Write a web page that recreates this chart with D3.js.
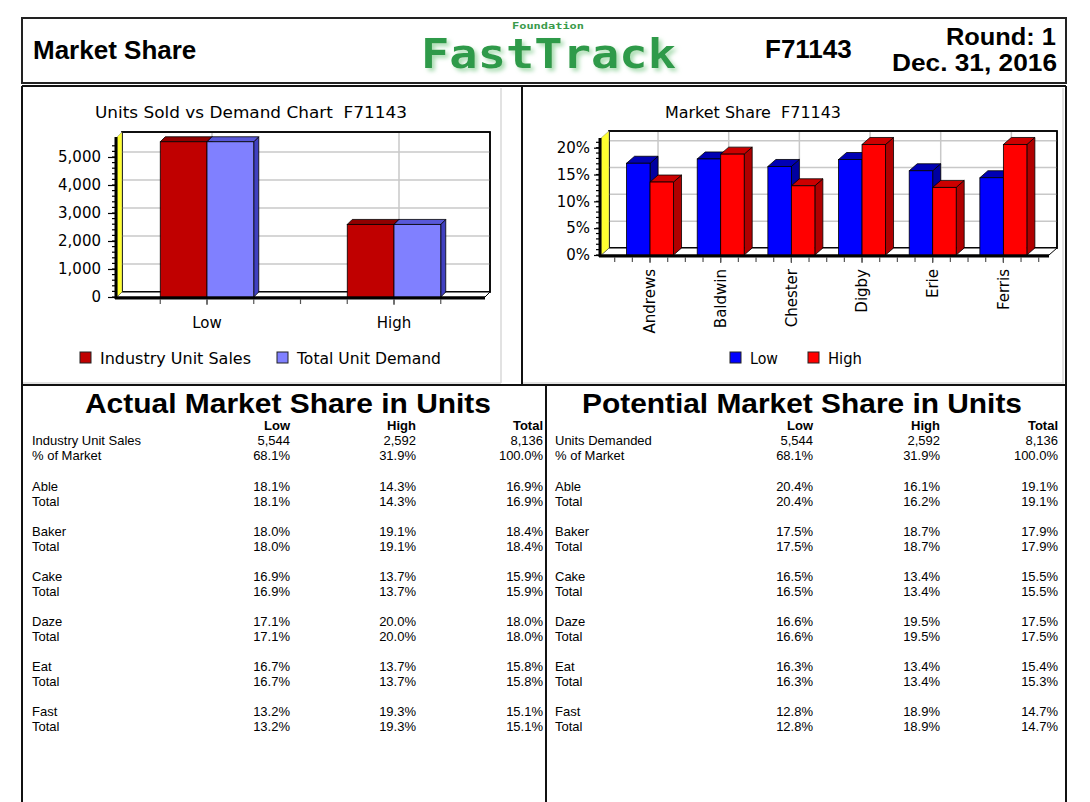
<!DOCTYPE html>
<html><head><meta charset="utf-8">
<script src="https://cdn.jsdelivr.net/npm/d3@7"></script>
<style>
body{margin:0;background:#fff;}
svg{display:block;}
text{white-space:pre;}
</style></head><body>
<svg id="c" width="1090" height="802"></svg>
<script>
// ---------- DATA ----------
const segments = ["Low", "High"];
const unitSeries = ["Industry Unit Sales", "Total Unit Demand"];
const industryUnitSales = [5544, 2592];
const totalUnitDemand = [5544, 2592];
const unitTicks = [0, 1000, 2000, 3000, 4000, 5000];

const companies = ["Andrews", "Baldwin", "Chester", "Digby", "Erie", "Ferris"];
const shareSeries = ["Low", "High"];
const shareLow = [17.1, 17.9, 16.5, 17.8, 15.7, 14.4];
const shareHigh = [13.6, 18.8, 12.9, 20.6, 12.6, 20.6];
const shareTicks = [0, 5, 10, 15, 20];

const tableColumns = ["Low", "High", "Total"];
const products = ["Able", "Baker", "Cake", "Daze", "Eat", "Fast"];
const industrySales = [5544, 2592, 8136];
const industryPct = [68.1, 31.9, 100.0];
const unitsDemanded = [5544, 2592, 8136];
const demandPct = [68.1, 31.9, 100.0];

const actualLow = [18.1, 18.0, 16.9, 17.1, 16.7, 13.2];
const actualHigh = [14.3, 19.1, 13.7, 20.0, 13.7, 19.3];
const actualTotal = [16.9, 18.4, 15.9, 18.0, 15.8, 15.1];
const actualCoLow = [18.1, 18.0, 16.9, 17.1, 16.7, 13.2];
const actualCoHigh = [14.3, 19.1, 13.7, 20.0, 13.7, 19.3];
const actualCoTotal = [16.9, 18.4, 15.9, 18.0, 15.8, 15.1];

const potentialLow = [20.4, 17.5, 16.5, 16.6, 16.3, 12.8];
const potentialHigh = [16.1, 18.7, 13.4, 19.5, 13.4, 18.9];
const potentialTotal = [19.1, 17.9, 15.5, 17.5, 15.4, 14.7];
const potentialCoLow = [20.4, 17.5, 16.5, 16.6, 16.3, 12.8];
const potentialCoHigh = [16.2, 18.7, 13.4, 19.5, 13.4, 18.9];
const potentialCoTotal = [19.1, 17.9, 15.5, 17.5, 15.3, 14.7];

// ---------- SETUP ----------
const svg = d3.select("#c");
svg.append("rect").attr("width", 1090).attr("height", 802).attr("fill", "#fff");
const defs = svg.append("defs");
const flt = defs.append("filter").attr("id", "glow").attr("x", "-10%").attr("y", "-30%").attr("width", "125%").attr("height", "160%");
flt.append("feGaussianBlur").attr("in", "SourceAlpha").attr("stdDeviation", 2.2).attr("result", "b");
flt.append("feOffset").attr("in", "b").attr("dx", 3).attr("dy", 3).attr("result", "o");
flt.append("feFlood").attr("flood-color", "#a8dcb0").attr("result", "c");
flt.append("feComposite").attr("in", "c").attr("in2", "o").attr("operator", "in").attr("result", "s");
flt.append("feGaussianBlur").attr("in", "SourceGraphic").attr("stdDeviation", 0.6).attr("result", "g");
const mg = flt.append("feMerge");
mg.append("feMergeNode").attr("in", "s");
mg.append("feMergeNode").attr("in", "g");

const chartFont = "'DejaVu Sans', Verdana, sans-serif";
const tableFont = "'Liberation Sans', Arial, Helvetica, sans-serif";

// ---------- HEADER ----------
const hdr = svg.append("g");
hdr.append("rect").attr("x", 22).attr("y", 18).attr("width", 1044).attr("height", 65)
  .attr("fill", "none").attr("stroke", "#222").attr("stroke-width", 2);
hdr.append("text").attr("x", 33).attr("y", 59).text("Market Share")
  .attr("font-family", tableFont).attr("font-weight", "bold").attr("font-size", 26);
hdr.append("text").attr("x", 421).attr("y", 68).text("FastTrack")
  .attr("font-family", "'DejaVu Sans Mono', monospace").attr("font-weight", "bold").attr("font-size", 41)
  .attr("textLength", 255).attr("lengthAdjust", "spacingAndGlyphs")
  .attr("fill", "#2f9a48").attr("filter", "url(#glow)");
hdr.append("text").attr("x", 548).attr("y", 28.5).text("Foundation").attr("text-anchor", "middle")
  .attr("font-family", "'DejaVu Sans Mono', monospace").attr("font-weight", "bold").attr("font-size", 9)
  .attr("textLength", 72).attr("lengthAdjust", "spacingAndGlyphs").attr("fill", "#3a9a4a");
hdr.append("text").attr("x", 765).attr("y", 58).text("F71143")
  .attr("font-family", tableFont).attr("font-weight", "bold").attr("font-size", 26);
hdr.append("text").attr("x", 1056).attr("y", 44.5).text("Round: 1").attr("text-anchor", "end")
  .attr("font-family", tableFont).attr("font-weight", "bold").attr("font-size", 23.5)
  .attr("textLength", 110).attr("lengthAdjust", "spacingAndGlyphs");
hdr.append("text").attr("x", 1057).attr("y", 71).text("Dec. 31, 2016").attr("text-anchor", "end")
  .attr("font-family", tableFont).attr("font-weight", "bold").attr("font-size", 23.5)
  .attr("textLength", 165).attr("lengthAdjust", "spacingAndGlyphs");

// ---------- FRAMES ----------
const frame = svg.append("g").attr("stroke", "#111").attr("stroke-width", 2).attr("fill", "none");
frame.append("line").attr("x1", 22).attr("x2", 1066).attr("y1", 86).attr("y2", 86);
frame.append("line").attr("x1", 22).attr("x2", 22).attr("y1", 86).attr("y2", 802);
frame.append("line").attr("x1", 1066).attr("x2", 1066).attr("y1", 86).attr("y2", 802);
frame.append("line").attr("x1", 522).attr("x2", 522).attr("y1", 86).attr("y2", 385);
frame.append("line").attr("x1", 22).attr("x2", 1066).attr("y1", 385).attr("y2", 385);
frame.append("line").attr("x1", 546).attr("x2", 546).attr("y1", 385).attr("y2", 802);
const inner = svg.append("g").attr("stroke", "#d8d8d8").attr("stroke-width", 1.5).attr("fill", "none");
inner.append("line").attr("x1", 501).attr("x2", 501).attr("y1", 88).attr("y2", 383);
inner.append("line").attr("x1", 23).attr("x2", 501).attr("y1", 383).attr("y2", 383);
inner.append("line").attr("x1", 523).attr("x2", 1064).attr("y1", 383).attr("y2", 383);
inner.append("line").attr("x1", 1063).attr("x2", 1063).attr("y1", 88).attr("y2", 383);

// ---------- 3D BAR CHART HELPER ----------
function chart3D(cfg) {
  const g = svg.append("g");
  const { fx0, fx1, y, x, xs, dx, dy, frontTop } = cfg;
  const y0 = y(0);
  g.append("rect").attr("x", fx0 + dx).attr("y", frontTop - dy)
    .attr("width", fx1 - fx0).attr("height", y0 - frontTop)
    .attr("fill", "#fff").attr("stroke", "#000").attr("stroke-width", 1.5);
  g.selectAll("line.hg").data(cfg.ticks.filter(t => t > 0)).join("line").attr("class", "hg")
    .attr("x1", fx0 + dx).attr("x2", fx1 + dx)
    .attr("y1", d => y(d) - dy).attr("y2", d => y(d) - dy)
    .attr("stroke", "#c8c8c8").attr("stroke-width", 1.5);
  g.selectAll("line.vg").data(x.domain()).join("line").attr("class", "vg")
    .attr("x1", d => x(d) + x.bandwidth() / 2 + dx).attr("x2", d => x(d) + x.bandwidth() / 2 + dx)
    .attr("y1", frontTop - dy + 1).attr("y2", y0 - dy)
    .attr("stroke", "#c8c8c8").attr("stroke-width", 1.5);
  g.append("rect").attr("x", fx0 + dx).attr("y", frontTop - dy)
    .attr("width", fx1 - fx0).attr("height", y0 - frontTop)
    .attr("fill", "none").attr("stroke", "#000").attr("stroke-width", 1.5);
  g.append("path").attr("d", `M${fx0},${y0}L${fx0 + dx},${y0 - dy}L${fx1 + dx},${y0 - dy}L${fx1},${y0}Z`)
    .attr("fill", "#fff").attr("stroke", "#000").attr("stroke-width", 1);
  g.append("path").attr("d", `M${fx0},${y0}L${fx0},${frontTop}L${fx0 + dx},${frontTop - dy}L${fx0 + dx},${y0 - dy}Z`)
    .attr("fill", "#ffff30").attr("stroke", "#888").attr("stroke-width", 0.5);
  const bars = g.selectAll("g.bar").data(cfg.data).join("g").attr("class", "bar");
  bars.each(function (d) {
    const s = d3.select(this);
    const bx = x(d.cat) + xs(d.series), w = xs.bandwidth(), yt = y(d.value);
    const c = cfg.colors[d.series];
    s.append("path").attr("d", `M${bx + w},${yt}L${bx + w + dx},${yt - dy}L${bx + w + dx},${y0 - dy}L${bx + w},${y0}Z`)
      .attr("fill", c.side).attr("stroke", "#000").attr("stroke-width", 0.8);
    s.append("path").attr("d", `M${bx},${yt}L${bx + dx},${yt - dy}L${bx + w + dx},${yt - dy}L${bx + w},${yt}Z`)
      .attr("fill", c.top).attr("stroke", "#000").attr("stroke-width", 0.8);
    s.append("rect").attr("x", bx).attr("y", yt).attr("width", w).attr("height", y0 - yt)
      .attr("fill", c.front).attr("stroke", "#000").attr("stroke-width", 0.8);
  });
  g.append("line").attr("x1", fx0 - 2).attr("x2", fx1).attr("y1", y0 + 1).attr("y2", y0 + 1)
    .attr("stroke", "#000").attr("stroke-width", 3);
  g.append("line").attr("x1", fx0 - 1).attr("x2", fx0 - 1).attr("y1", frontTop).attr("y2", y0 + 2)
    .attr("stroke", "#000").attr("stroke-width", 3);
  g.selectAll("line.mt").data(cfg.minor).join("line").attr("class", "mt")
    .attr("x1", fx0 - 5).attr("x2", fx0).attr("y1", d => y(d)).attr("y2", d => y(d))
    .attr("stroke", "#000").attr("stroke-width", 1.2);
  const ya = g.append("g").attr("transform", `translate(${fx0 - 1},0)`)
    .call(d3.axisLeft(y).tickValues(cfg.ticks).tickFormat(cfg.fmt).tickSize(cfg.tickSize).tickPadding(cfg.tickPad));
  ya.select(".domain").remove();
  ya.selectAll("line").attr("stroke", "#000").attr("stroke-width", 1.2);
  ya.selectAll("text").attr("font-family", chartFont).attr("font-size", 15).attr("fill", "#000");
  const r = x.range(), q = x.step() / 4;
  const xt = d3.range(0, Math.round((r[1] - r[0]) / q) + 1).map(k => r[0] + k * q)
    .filter(v => v >= cfg.xtMin && v <= cfg.xtMax);
  g.selectAll("line.xt").data(xt).join("line").attr("class", "xt")
    .attr("x1", d => d).attr("x2", d => d).attr("y1", y0 + 2).attr("y2", y0 + 7)
    .attr("stroke", "#555").attr("stroke-width", 1.2);
  const xa = g.append("g").attr("transform", `translate(0,${y0 + 2})`)
    .call(d3.axisBottom(x).tickSize(6).tickPadding(cfg.xPad));
  xa.select(".domain").remove();
  xa.selectAll("line").attr("stroke", "#555").attr("stroke-width", 1.2);
  xa.selectAll("text").attr("font-family", chartFont).attr("font-size", 15).attr("fill", "#000");
  if (cfg.rotate) {
    xa.selectAll("text").attr("transform", "rotate(-90)").attr("y", 0).attr("x", -cfg.xPad - 6)
      .attr("dy", "0.36em").attr("text-anchor", "end");
  }
  g.append("text").attr("x", cfg.titleX).attr("y", 118).attr("text-anchor", "middle").text(cfg.title)
    .attr("font-family", chartFont).attr("font-size", 15)
    .attr("textLength", cfg.titleLen).attr("lengthAdjust", "spacingAndGlyphs");
  const lg = g.selectAll("g.lg").data(cfg.legend).join("g").attr("class", "lg");
  lg.append("rect").attr("x", d => d.x).attr("y", 352).attr("width", 11).attr("height", 11)
    .attr("fill", d => cfg.colors[d.name].front).attr("stroke", "#222").attr("stroke-width", 1);
  lg.append("text").attr("x", d => d.x + 20).attr("y", 364).text(d => d.name)
    .attr("font-family", chartFont).attr("font-size", 15)
    .attr("textLength", d => d.len).attr("lengthAdjust", "spacingAndGlyphs");
  return g;
}

// ---------- LEFT CHART ----------
const xU = d3.scaleBand().domain(segments).range([113.5, 487.5]).paddingInner(0.5).paddingOuter(0.25);
const xUs = d3.scaleBand().domain(unitSeries).range([0, xU.bandwidth()]);
const yU = d3.scaleLinear().domain([0, 5000]).range([297, 157]);
chart3D({
  fx0: 117, fx1: 485, dx: 5, dy: 5, frontTop: 137,
  x: xU, xs: xUs, y: yU, ticks: unitTicks, minor: d3.range(0, 5600, 200),
  fmt: d3.format(","), tickSize: 8, tickPad: 7, xPad: 12,
  xtMin: xU(segments[0]) - 1, xtMax: xU(segments[1]) + xU.bandwidth() + 1,
  data: segments.flatMap((s, i) => [
    { cat: s, series: unitSeries[0], value: industryUnitSales[i] },
    { cat: s, series: unitSeries[1], value: totalUnitDemand[i] }]),
  colors: {
    "Industry Unit Sales": { front: "#c00000", top: "#900000", side: "#800000" },
    "Total Unit Demand": { front: "#8080ff", top: "#5858d8", side: "#4040c0" }
  },
  title: "Units Sold vs Demand Chart  F71143", titleX: 251, titleLen: 312,
  legend: [{ name: unitSeries[0], x: 80, len: 151 }, { name: unitSeries[1], x: 277, len: 144 }]
});

// ---------- RIGHT CHART ----------
const xS = d3.scaleBand().domain(companies).range([614.7, 1038.7]).paddingInner(0.335).paddingOuter(0.1675);
const xSs = d3.scaleBand().domain(shareSeries).range([0, xS.bandwidth()]);
const yS = d3.scaleLinear().domain([0, 20]).range([255, 147.7]);
chart3D({
  fx0: 601, fx1: 1049, dx: 8, dy: 7, frontTop: 138,
  x: xS, xs: xSs, y: yS, ticks: shareTicks, minor: d3.range(0, 22, 1),
  fmt: d => d + "%", tickSize: 6, tickPad: 4, xPad: 6, rotate: true,
  xtMin: 0, xtMax: 2000,
  data: companies.flatMap((c, i) => [
    { cat: c, series: "Low", value: shareLow[i] },
    { cat: c, series: "High", value: shareHigh[i] }]),
  colors: {
    "Low": { front: "#0000ff", top: "#0000b4", side: "#0000a0" },
    "High": { front: "#ff0000", top: "#cc0000", side: "#b00000" }
  },
  title: "Market Share  F71143", titleX: 753, titleLen: 176,
  legend: [{ name: "Low", x: 730, len: 28 }, { name: "High", x: 808, len: 34 }]
});

// ---------- TABLES ----------
const pct = v => d3.format(".1f")(v) + "%";
const num = d3.format(",");
function drawTable(cfg) {
  const g = svg.append("g").attr("font-family", tableFont).attr("font-size", 13).attr("fill", "#000");
  g.append("text").attr("x", cfg.titleX).attr("y", 413).attr("text-anchor", "middle").text(cfg.title)
    .attr("font-weight", "bold").attr("font-size", 28)
    .attr("textLength", cfg.titleLen).attr("lengthAdjust", "spacingAndGlyphs");
  g.selectAll("text.hd").data(tableColumns).join("text").attr("class", "hd")
    .attr("x", (d, i) => cfg.colX[i]).attr("y", 430).attr("text-anchor", "end")
    .attr("font-weight", "bold").text(d => d);
  const rows = [
    { label: cfg.sumLabel, vals: cfg.sumVals.map(num), y: 445 },
    { label: "% of Market", vals: cfg.sumPct.map(pct), y: 460 }
  ];
  products.forEach((p, i) => {
    rows.push({ label: p, vals: [cfg.low[i], cfg.high[i], cfg.total[i]].map(pct), y: 490.5 + 45 * i });
    rows.push({ label: "Total", vals: [cfg.coLow[i], cfg.coHigh[i], cfg.coTotal[i]].map(pct), y: 505.5 + 45 * i });
  });
  const rg = g.selectAll("g.row").data(rows).join("g").attr("class", "row");
  rg.append("text").attr("x", cfg.labelX).attr("y", d => d.y).text(d => d.label);
  rg.selectAll("text.v").data(d => d.vals.map(v => ({ v, y: d.y }))).join("text").attr("class", "v")
    .attr("x", (d, i) => cfg.colX[i]).attr("y", d => d.y).attr("text-anchor", "end").text(d => d.v);
}
drawTable({
  title: "Actual Market Share in Units", titleX: 288, titleLen: 406,
  labelX: 32, colX: [290, 416, 543],
  sumLabel: "Industry Unit Sales", sumVals: industrySales, sumPct: industryPct,
  low: actualLow, high: actualHigh, total: actualTotal,
  coLow: actualCoLow, coHigh: actualCoHigh, coTotal: actualCoTotal
});
drawTable({
  title: "Potential Market Share in Units", titleX: 802, titleLen: 440,
  labelX: 555, colX: [813, 940, 1058],
  sumLabel: "Units Demanded", sumVals: unitsDemanded, sumPct: demandPct,
  low: potentialLow, high: potentialHigh, total: potentialTotal,
  coLow: potentialCoLow, coHigh: potentialCoHigh, coTotal: potentialCoTotal
});
</script>
</body></html>
